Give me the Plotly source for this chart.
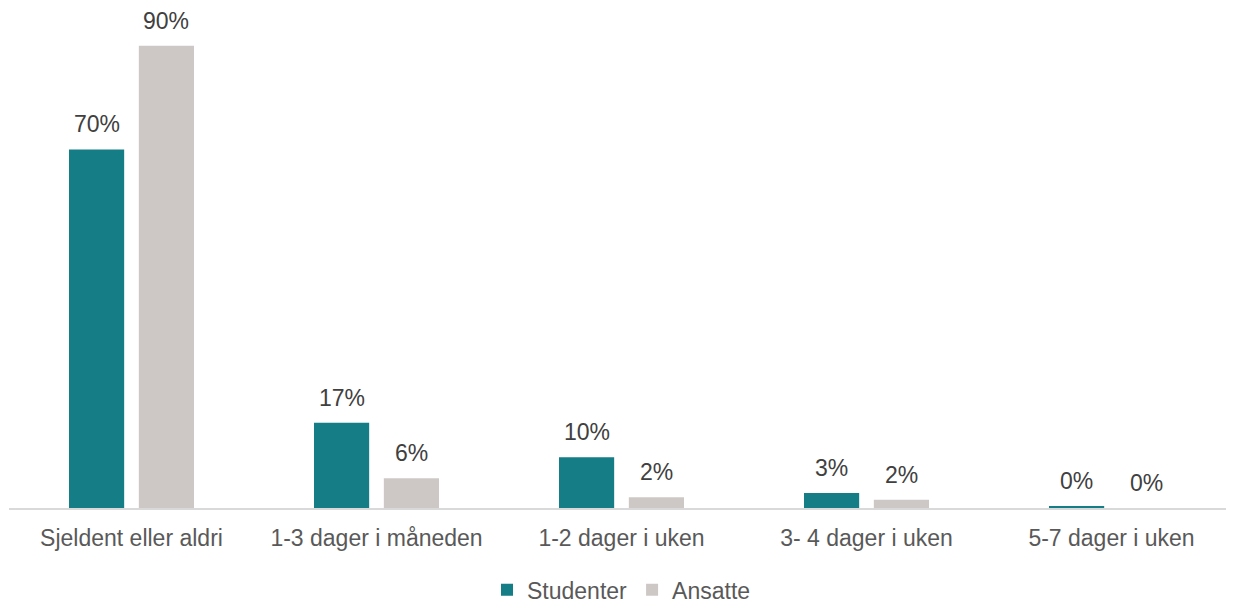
import plotly.graph_objects as go

categories = ["Sjeldent eller aldri", "1-3 dager i måneden", "1-2 dager i uken",
              "3- 4 dager i uken", "5-7 dager i uken"]
studenter = [69.8, 16.6, 9.9, 2.9, 0.3]
ansatte = [90.0, 5.8, 2.1, 1.6, 0.0]
series_names = ["Studenter", "Ansatte"]
colors = ["#147D85", "#CDC8C5"]

# page body has an 8px margin, so the figure is 8px smaller in each direction
W, H = 1226, 595
ML, MR, MT, MB = 1, 0, 12, 95
BARGAP, BARGROUPGAP = 0.43, 0.21
FONT = "Liberation Sans, Arial, sans-serif"
FS = 23

fig = go.Figure()
for name, vals, col in zip(series_names, [studenter, ansatte], colors):
    fig.add_trace(go.Bar(x=categories, y=vals, name=name, marker_color=col,
                         marker_line_width=0))

# value labels above bars
cat_px = (W - ML - MR) / len(categories)
slot = cat_px * (1 - BARGAP) / 2
for i, vals in enumerate([studenter, ansatte]):
    shift = (i - 0.5) * slot
    for c, v in zip(categories, vals):
        fig.add_annotation(x=c, y=v, text=f"{v:.0f}%", showarrow=False,
                           xshift=shift, yshift=10, yanchor="bottom",
                           font=dict(family=FONT, size=FS, color="#404040"))

fig.update_layout(
    width=W, height=H,
    margin=dict(l=ML, r=MR, t=MT, b=MB),
    barmode="group", bargap=BARGAP, bargroupgap=BARGROUPGAP,
    plot_bgcolor="white", paper_bgcolor="white",
    font=dict(family=FONT, size=FS, color="#595959"),
    showlegend=True,
    legend=dict(orientation="h", x=0.5, xanchor="center", yref="container",
                y=0.022, yanchor="middle", font=dict(size=FS, color="#595959"),
                itemclick=False),
)
fig.update_xaxes(showline=True, linecolor="#D9D9D9", linewidth=1.5,
                 ticks="", ticklabelstandoff=9, showgrid=False,
                 tickfont=dict(family=FONT, size=FS, color="#595959"))
fig.update_yaxes(visible=False, range=[0, 95], showgrid=False)

fig.write_html("out.html")
